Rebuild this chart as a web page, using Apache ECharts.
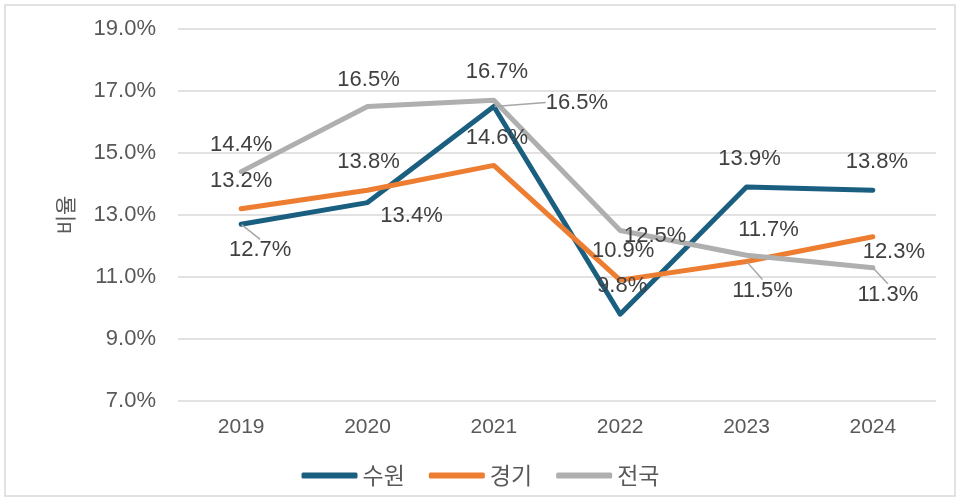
<!DOCTYPE html>
<html>
<head>
<meta charset="utf-8">
<script src="https://cdn.jsdelivr.net/npm/echarts@6/dist/echarts.min.js"></script>
<style>
html,body{margin:0;padding:0;background:#fff;}
#c{width:961px;height:502px;}
</style>
</head>
<body>
<div id="c"></div>
<script>
const years = ['2019','2020','2021','2022','2023','2024'];
const suwon = [12.7, 13.4, 16.5, 9.8, 13.9, 13.8];
const gyeonggi = [13.2, 13.8, 14.6, 10.9, 11.5, 12.3];
const national = [14.4, 16.5, 16.7, 12.5, 11.7, 11.3];
const seriesNames = ['수원', '경기', '전국'];
const yTicks = [7, 9, 11, 13, 15, 17, 19];

// label layout (offsets of label centre from the point) and leader lines
const layoutSuwon = [[19,26],[44,13],[83,-4],[2,-28],[3,-28],[4,-28]];
const layoutGyeonggi = [[0,-28],[1,-28],[3,-27],[3,-29],[16,29],[21,15]];
const layoutNational = [[0,-27],[1,-27],[3,-28],[35,5],[22,-25],[15,27]];
const leaderSuwon = [true,false,true,false,false,false];
const leaderGyeonggi = [false,false,false,false,true,false];
const leaderNational = [false,false,false,false,false,true];

const FONT = '"Liberation Sans", "Noto Sans CJK KR", Arial, sans-serif';
const KFONT = '"Noto Sans CJK KR", "Liberation Sans", sans-serif';

function mkSeries(name, vals, color, lay, leader){
  return {
    name: name,
    type: 'line',
    data: vals.map((v,i)=>({value:v, labelLine:{show:leader[i]}})),
    symbol: 'circle',
    symbolSize: 1,
    showSymbol: true,
    lineStyle: {color: color, width: 5, cap:'round', join:'round'},
    itemStyle: {color: color},
    emphasis: {disabled: true},
    label: {
      show: true,
      position: 'inside',
      formatter: p => p.value.toFixed(1) + '%',
      color: '#404040',
      fontSize: 22,
      fontFamily: FONT
    },
    labelLine: {lineStyle:{color:'#a6a6a6', width:1.5}},
    labelLayout: function(p){
      const o = lay[p.dataIndex];
      return {dx:o[0], dy:o[1]};
    }
  };
}

const chart = echarts.init(document.getElementById('c'), null, {renderer:'canvas'});
chart.setOption({
  animation: false,
  backgroundColor: '#fff',
  graphic: [{
    type:'rect', shape:{x:5,y:5,width:950,height:491},
    style:{fill:'none', stroke:'#d9d9d9', lineWidth:1.5}, silent:true
  }],
  grid: {left:178, right:25, top:29, bottom:101},
  legend: {
    data: seriesNames,
    top: 459,
    left: 'center',
    itemWidth: 56,
    itemHeight: 6,
    itemGap: 24,
    icon: 'roundRect',
    textStyle: {color:'#595959', fontSize:23, fontFamily: KFONT}
  },
  xAxis: {
    type: 'category',
    data: years,
    boundaryGap: true,
    axisLine: {show:false},
    axisTick: {show:false},
    axisLabel: {color:'#595959', fontSize:21, fontFamily: FONT, margin:16}
  },
  yAxis: {
    type: 'value',
    min: yTicks[0],
    max: yTicks[yTicks.length-1],
    interval: 2,
    name: '비율',
    nameLocation: 'middle',
    nameGap: 102,
    nameTextStyle: {color:'#595959', fontSize:21, fontFamily: KFONT},
    axisLine: {show:false},
    axisTick: {show:false},
    axisLabel: {color:'#595959', fontSize:22, fontFamily: FONT, margin:22,
      formatter: v => v.toFixed(1) + '%'},
    splitLine: {lineStyle:{color:'#d9d9d9', width:1.5}}
  },
  series: [
    mkSeries(seriesNames[0], suwon, '#1a5f80', layoutSuwon, leaderSuwon),
    mkSeries(seriesNames[1], gyeonggi, '#ed7d31', layoutGyeonggi, leaderGyeonggi),
    mkSeries(seriesNames[2], national, '#afafaf', layoutNational, leaderNational)
  ]
});
</script>
</body>
</html>
